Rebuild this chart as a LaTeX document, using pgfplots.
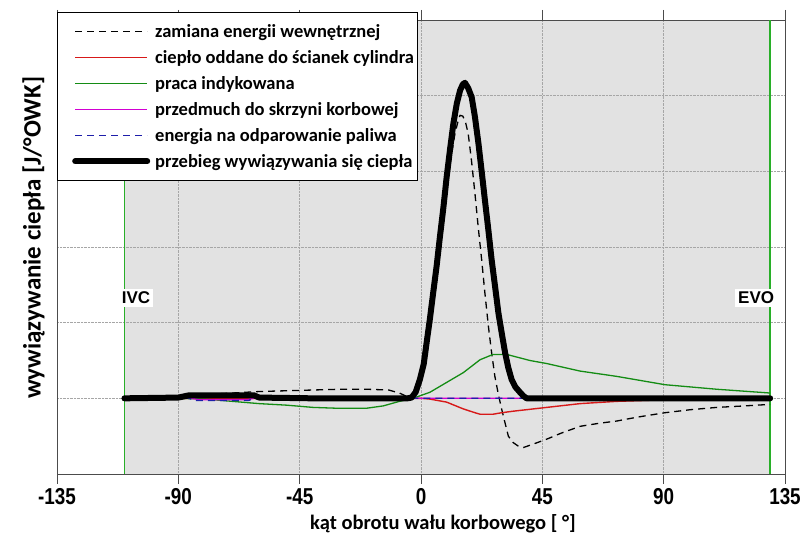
\documentclass[border=0pt]{standalone}
\usepackage{pgfplots}
\pgfplotsset{compat=1.18}
\usepackage{fontspec}
\setmainfont{Carlito}
\newfontfamily\narrowbold[FakeStretch=0.82]{Liberation Sans Bold}
\newfontfamily\arialbold{Liberation Sans Bold}
\newfontfamily\carlitobold{Carlito Bold}
\definecolor{bg}{RGB}{226,226,226}
\definecolor{vgreen}{RGB}{40,175,40}
\definecolor{wgreen}{RGB}{20,140,20}
\definecolor{wred}{RGB}{215,25,25}
\definecolor{wmag}{RGB}{210,0,210}
\definecolor{wblue}{RGB}{30,30,170}
\begin{document}
\begin{tikzpicture}
\begin{axis}[
  name=ax, set layers=standard,
  scale only axis, width=728pt, height=454pt,
  xmin=-135, xmax=135, ymin=-1, ymax=5,
  xtick={-135,-90,-45,0,45,90,135},
  xticklabels={-135,-90,-45,0,45,90,135},
  ytick={0,1,2,3,4}, yticklabels={},
  grid=major,
  major grid style={gray!70, densely dotted, line width=0.6pt},
  tick align=outside,
  xtick style={draw=black!70, line width=0.6pt},
  major tick length=10pt,
  ytick style={draw=none},
  axis line style={black!70, line width=0.8pt},
  xticklabel style={font=\narrowbold\fontsize{23}{23}\selectfont, yshift=-1pt},
  xlabel={kąt obrotu wału korbowego [ °]},
  xlabel style={font=\carlitobold\fontsize{20.5}{20.5}\selectfont, at={(axis description cs:0.53,0)}, anchor=center, yshift=-50pt},
  ylabel={wywiązywanie ciepła [J/°OWK]},
  ylabel style={font=\carlitobold\fontsize{25}{25}\selectfont, at={(axis description cs:-0.012,0.52)}, anchor=south},
  legend style={at={(0,1)}, anchor=north west, yshift=8pt, draw=black, fill=white,
    font=\carlitobold\fontsize{18.5}{20}\selectfont,
    row sep=7.5pt, inner xsep=1pt, inner ysep=10pt,
    legend cell align=left, /tikz/every odd column/.append style={column sep=3pt}},
  legend image code/.code={\path (0pt,0pt); \draw[#1] (14pt,0pt) -- (86pt,0pt);},
]
\addplot[fill=bg, draw=none, forget plot, on layer=axis background] coordinates {(-110,-1) (-110,5) (129.5,5) (129.5,-1)} -- cycle;
\addplot[vgreen, line width=1.8pt, forget plot] coordinates {(-110,-1) (-110,5)};
\addplot[vgreen, line width=1.8pt, forget plot] coordinates {(129.5,-1) (129.5,5)};

% zamiana energii wewnetrznej
\addplot[black, line width=1.3pt, dash pattern=on 7pt off 5pt] coordinates {
(-110,0)(-100,0.01)(-90,0.03)(-80,0.05)(-70,0.07)(-60,0.09)(-50,0.10)(-40,0.11)(-30,0.12)(-20,0.12)(-12,0.11)(-8,0.07)(-5,0.02)(-3,0)(-1,0.2)(1,0.42)(3,0.95)(5,1.5)(7,2.05)(9,2.6)(11,3.15)(12.6,3.5)(14,3.7)(14.5,3.74)(15.5,3.73)(16.5,3.65)(17.5,3.5)(18.7,3.15)(20,2.71)(21.2,2.27)(22.5,1.83)(23.7,1.39)(25,0.95)(26.2,0.6)(27.4,0.29)(28.7,0.05)(29.9,-0.14)(31.2,-0.33)(32.4,-0.5)(34,-0.58)(36,-0.63)(38,-0.65)(42,-0.6)(46.6,-0.54)(52,-0.46)(59,-0.37)(66,-0.33)(72.6,-0.30)(80,-0.25)(90.5,-0.19)(100,-0.15)(109.7,-0.12)(120,-0.1)(129.5,-0.08)};
\addlegendentry{zamiana energii wewnętrznej}

% cieplo oddane
\addplot[wred, line width=1.4pt] coordinates {
(-110,0)(0,0)(3.3,-0.01)(9.5,-0.05)(15.7,-0.14)(20,-0.19)(21.9,-0.21)(26.7,-0.21)(30,-0.19)(34.2,-0.17)(46.6,-0.12)(59,-0.07)(72.6,-0.04)(90,-0.02)(110,-0.01)(129.5,0)};
\addlegendentry{ciepło oddane do ścianek cylindra}

% praca indykowana
\addplot[wgreen, line width=1.3pt] coordinates {
(-110,0)(-90,0)(-80,-0.01)(-70,-0.04)(-60,-0.07)(-50,-0.09)(-40,-0.12)(-32,-0.13)(-20,-0.13)(-14,-0.1)(-8,-0.04)(-3,0)(3.3,0.08)(9.5,0.21)(15.7,0.34)(21.9,0.51)(26.7,0.58)(31.8,0.58)(40.4,0.5)(46.6,0.46)(52.8,0.41)(59,0.36)(72.6,0.29)(90.5,0.18)(109.7,0.12)(129.5,0.07)};
\addlegendentry{praca indykowana}

% przedmuch
\addplot[wmag, line width=1.3pt] coordinates {
(-110,0)(-85,0)(-82,-0.02)(-65,-0.02)(-62,0)(129.5,0)};
\addlegendentry{przedmuch do skrzyni korbowej}

% energia na odparowanie
\addplot[wblue, line width=1.3pt, dash pattern=on 7pt off 5pt] coordinates {
(-110,0)(-86,0)(-84,-0.03)(-64,-0.03)(-62,0)(129.5,0)};
\addlegendentry{energia na odparowanie paliwa}

% przebieg wywiazywania
\addplot[black, line width=6pt, line cap=round, line join=round] coordinates {
(-110,0)(-90,0.01)(-86,0.04)(-62,0.04)(-60,0.01)(-40,0)(-5,0)(-3.5,0.01)(-2,0.08)(-0.4,0.25)(1,0.45)(2.1,0.74)(3.3,1.05)(4.5,1.39)(5.8,1.75)(7,2.13)(8.3,2.52)(9.5,2.92)(10.8,3.3)(12,3.63)(13.3,3.9)(14.5,4.07)(15.5,4.15)(16.3,4.17)(17.5,4.1)(18.8,3.98)(20,3.72)(21.3,3.37)(22.5,3.0)(23.7,2.62)(25,2.22)(26.2,1.83)(27.5,1.47)(28.7,1.13)(30,0.85)(31.2,0.6)(32.4,0.4)(33.6,0.25)(35,0.15)(36.7,0.08)(38,0.03)(39.2,0)(60,0)(129.5,0)};
\addlegendentry{przebieg wywiązywania się ciepła}

\node[fill=white, inner sep=3pt, font=\arialbold\fontsize{17}{17}\selectfont] at (axis cs:-105.7,1.33) {IVC};
\node[fill=white, inner sep=3pt, font=\arialbold\fontsize{17}{17}\selectfont] at (axis cs:124.3,1.33) {EVO};
\end{axis}
\pgfresetboundingbox
\path[use as bounding box] ([xshift=-57pt,yshift=-73pt]ax.south west) rectangle ([xshift=23pt,yshift=20pt]ax.north east);
\end{tikzpicture}
\end{document}
